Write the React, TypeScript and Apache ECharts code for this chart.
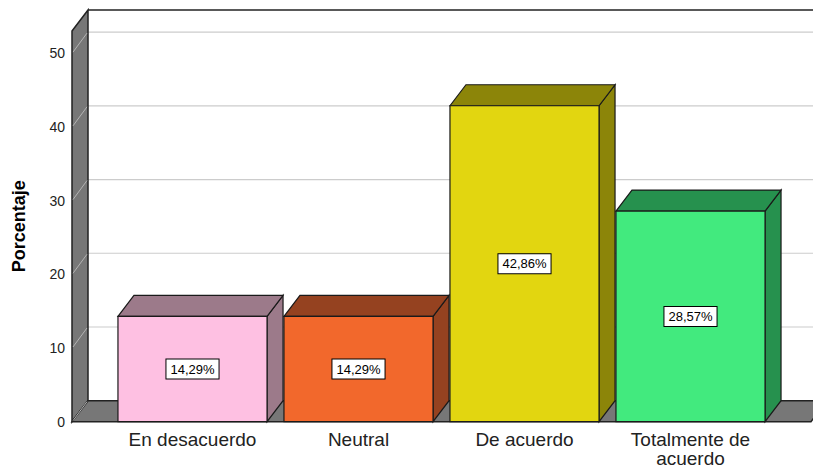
import React, { useEffect, useRef } from "react";
import * as echarts from "echarts";

const CATEGORIES = ["En desacuerdo", "Neutral", "De acuerdo", "Totalmente de\nacuerdo"];
const PERCENTS = [14.29, 14.29, 42.86, 28.57];
const Y_TICKS = [0, 10, 20, 30, 40, 50];
const Y_MIN = 0;
const Y_MAX = 53;
const Y_INTERVAL = 10;
const FRONT_COLORS = ["#FEC0E2", "#F2682C", "#E2D610", "#42EA7E"];
const SHADE_COLORS = ["#9C7A8A", "#954220", "#8C8509", "#26914E"];

const DX = 16;
const DY = 21;
const WALL_GAP = 37.5;
const BAR_FRACTION = 0.898;
const FONT = "'Liberation Sans', Arial, sans-serif";

function fmtPct(v: number) {
  return v.toFixed(2).replace(".", ",") + "%";
}

export default function App() {
  const ref = useRef<HTMLDivElement>(null);
  useEffect(() => {
    if (!ref.current) return;
    const chart = echarts.init(ref.current, null, { renderer: "svg" });
    const n = CATEGORIES.length;

    const wallsRender = (params: any, api: any) => {
      const bw = api.size([1, 0])[0];
      const first = api.coord([0, Y_MIN]);
      const last = api.coord([n - 1, Y_MIN]);
      const y0 = first[1];
      const yTop = api.coord([0, Y_MAX])[1];
      const xl = first[0] - bw / 2 - WALL_GAP;
      const xr = last[0] + bw / 2 + WALL_GAP;
      const children: any[] = [];
      children.push({
        type: "rect",
        shape: { x: xl + DX, y: yTop - DY, width: xr - xl + 40, height: y0 - yTop },
        style: { fill: "#ffffff" },
      });
      children.push({
        type: "line",
        shape: { x1: xl + DX, y1: yTop - DY, x2: xr + DX + 40, y2: yTop - DY },
        style: { stroke: "#222", lineWidth: 1.5 },
      });
      for (const t of Y_TICKS) {
        if (t === 0) continue;
        const yf = api.coord([0, t])[1];
        children.push({
          type: "line",
          shape: { x1: xl + DX, y1: yf - DY, x2: xr + DX + 40, y2: yf - DY },
          style: { stroke: "#cccccc", lineWidth: 1.2 },
        });
      }
      children.push({
        type: "polygon",
        shape: { points: [[xl, yTop], [xl + DX, yTop - DY], [xl + DX, y0 - DY], [xl, y0]] },
        style: { fill: "#777777", stroke: "#222", lineWidth: 1.5 },
      });
      children.push({
        type: "polygon",
        shape: { points: [[xl, y0], [xl + DX, y0 - DY], [xr + DX, y0 - DY], [xr, y0]] },
        style: { fill: "#777777", stroke: "#222", lineWidth: 1.5 },
      });
      for (const t of Y_TICKS) {
        const yf = api.coord([0, t])[1];
        children.push({
          type: "line",
          shape: { x1: xl + 1, y1: yf - 1, x2: xl + DX - 1, y2: yf - DY + 1 },
          style: { stroke: "#b4b4b4", lineWidth: 1 },
        });
      }
      return { type: "group", children };
    };

    const barsRender = (params: any, api: any) => {
      const i = api.value(0);
      const v = api.value(1);
      const bw = api.size([1, 0])[0];
      const [cx, yb] = api.coord([i, Y_MIN]);
      const yt = api.coord([i, v])[1];
      const hw = (bw * BAR_FRACTION) / 2;
      const x0 = cx - hw;
      const x1 = cx + hw;
      const front = FRONT_COLORS[i];
      const shade = SHADE_COLORS[i];
      const stroke = { stroke: "#1a1a1a", lineWidth: 1.2 };
      return {
        type: "group",
        children: [
          {
            type: "polygon",
            shape: { points: [[x1, yt], [x1 + DX, yt - DY], [x1 + DX, yb - DY], [x1, yb]] },
            style: { fill: shade, ...stroke },
          },
          {
            type: "polygon",
            shape: { points: [[x0, yt], [x0 + DX, yt - DY], [x1 + DX, yt - DY], [x1, yt]] },
            style: { fill: shade, ...stroke },
          },
          {
            type: "rect",
            shape: { x: x0, y: yt, width: x1 - x0, height: yb - yt },
            style: { fill: front, ...stroke },
          },
          {
            type: "text",
            x: cx,
            y: (yt + yb) / 2,
            style: {
              text: fmtPct(v),
              align: "center",
              verticalAlign: "middle",
              fill: "#000",
              fontSize: 13,
              fontFamily: FONT,
              backgroundColor: "#ffffff",
              borderColor: "#000",
              borderWidth: 1,
              padding: [3, 4, 2, 4],
              lineHeight: 14,
            },
          },
        ],
      };
    };

    chart.setOption({
      animation: false,
      grid: {
        left: 109.5,
        right: 39.5,
        top: 31,
        bottom: 48.3,
        containLabel: false,
        outerBoundsMode: "none",
      },
      xAxis: {
        type: "category",
        data: CATEGORIES,
        axisLine: { show: false },
        axisTick: { show: false },
        splitLine: { show: false },
        axisLabel: {
          fontSize: 19,
          fontFamily: FONT,
          color: "#222",
          margin: 8,
          lineHeight: 19.5,
          interval: 0,
        },
      },
      yAxis: {
        type: "value",
        min: Y_MIN,
        max: Y_MAX,
        interval: Y_INTERVAL,
        offset: WALL_GAP,
        axisLine: { show: false },
        axisTick: { show: false },
        splitLine: { show: false },
        axisLabel: {
          fontSize: 14,
          fontFamily: FONT,
          color: "#222",
          margin: 7,
          showMaxLabel: false,
          formatter: (v: number) => (Y_TICKS.includes(v) ? String(v) : ""),
        },
        name: "Porcentaje",
        nameLocation: "middle",
        nameRotate: 90,
        nameGap: 44,
        nameTextStyle: { fontSize: 18, fontWeight: "bold", fontFamily: FONT, color: "#000" },
      },
      series: [
        {
          type: "custom",
          renderItem: wallsRender,
          data: [[0, 0]],
          silent: true,
          z: 1,
        },
        {
          type: "custom",
          renderItem: barsRender,
          data: PERCENTS.map((v, i) => [i, v]),
          z: 2,
        },
      ],
    });
    return () => chart.dispose();
  }, []);
  return (
    <div
      ref={ref}
      style={{ position: "absolute", left: 0, top: 0, width: 813, height: 470, background: "#fff" }}
    />
  );
}
